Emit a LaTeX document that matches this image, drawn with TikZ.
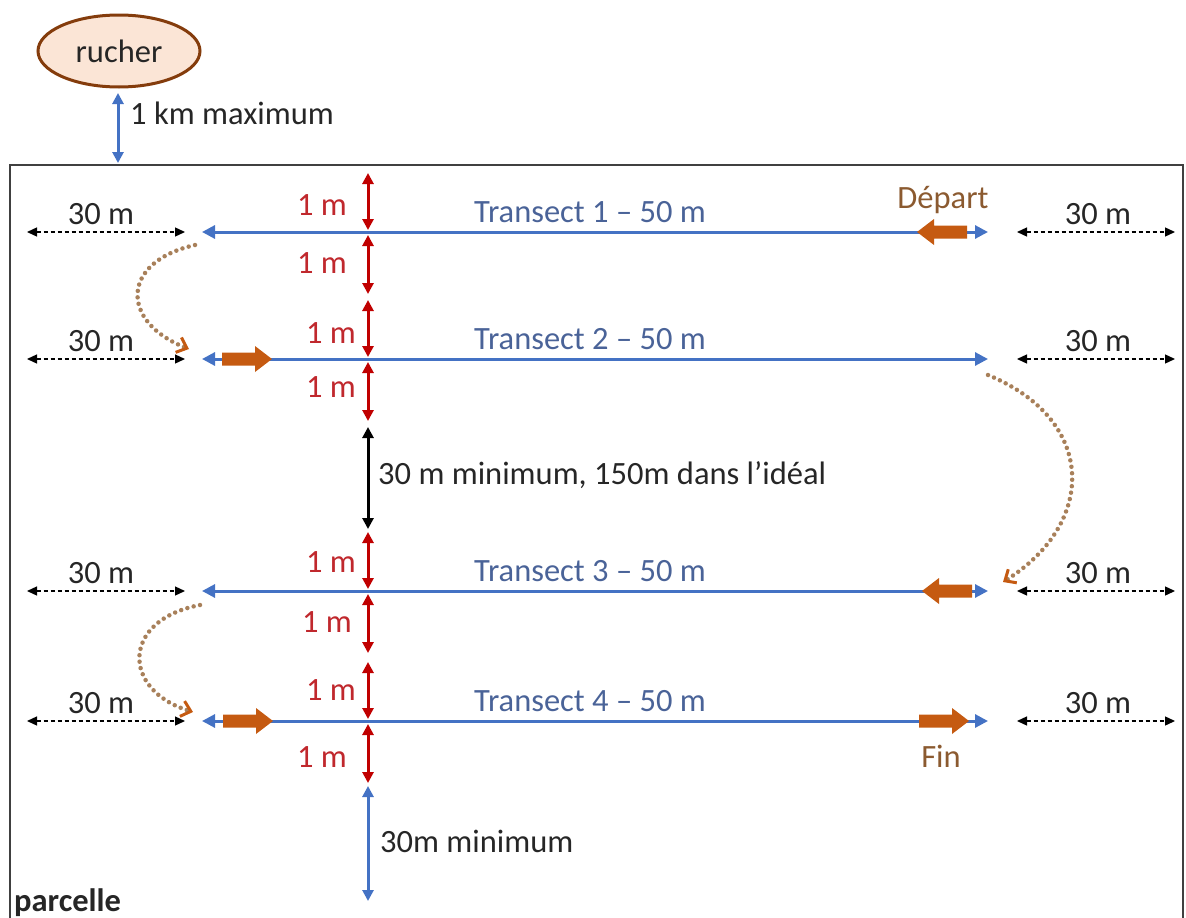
\documentclass[tikz,border=0pt]{standalone}
\usepackage{fontspec}
\setmainfont{Carlito}
\usetikzlibrary{arrows.meta,shapes.geometric}
\definecolor{tblue}{HTML}{4472C4}
\definecolor{tred}{HTML}{C00000}
\definecolor{tredtxt}{HTML}{C0282D}
\definecolor{torange}{HTML}{C55A11}
\definecolor{tbrown}{HTML}{843C0C}
\definecolor{tpeach}{HTML}{FBE5D6}
\definecolor{ttxtblue}{HTML}{4A6398}
\definecolor{tdot}{HTML}{A8805A}
\definecolor{tbrowntxt}{HTML}{8B5A30}
\definecolor{tdark}{HTML}{262626}
\begin{document}
\begin{tikzpicture}[x=1pt,y=-1pt,
  every node/.style={font=\fontsize{32.5}{38}\selectfont, text=tdark, inner sep=0pt},
  transect/.style={tblue, line width=3pt, {Triangle[length=13pt,width=13pt]}-{Triangle[length=13pt,width=13pt]}},
  redarr/.style={tred, line width=3pt, {Triangle[length=11pt,width=11pt]}-{Triangle[length=11pt,width=11pt]}},
  blackarr/.style={black, line width=3pt, {Triangle[length=11pt,width=11pt]}-{Triangle[length=11pt,width=11pt]}},
  bluearr/.style={tblue, line width=3pt, {Triangle[length=11pt,width=11pt]}-{Triangle[length=11pt,width=11pt]}},
  dimarr/.style={black, line width=1.3pt, dash pattern=on 4pt off 3pt, {Triangle[length=10pt,width=9pt]}-{Triangle[length=10pt,width=9pt]}},
  dotarr/.style={tdot, line width=4.5pt, dash pattern=on 0pt off 6.5pt, line cap=round, -{Straight Barb[length=9pt,width=16pt,line width=3pt,color=torange]}},
  tlabel/.style={text=ttxtblue, anchor=base},
  rlabel/.style={text=tredtxt, anchor=east},
  dlabel/.style={anchor=base},
  barrow/.pic={\fill[torange] (0,-6.5) -- (33,-6.5) -- (33,-13) -- (50,0) -- (33,13) -- (33,6.5) -- (0,6.5) -- cycle;}
]
\useasboundingbox (0,0) rectangle (1186,918);
% parcel outline
\draw[line width=2pt, black!75] (10,930) -- (10,165) -- (1183,165) -- (1183,930);
\node[anchor=base west, font=\fontsize{32.5}{38}\selectfont\bfseries] (parcelle) at (14,911) {parcelle};
% rucher
\node[ellipse, draw=tbrown, line width=3pt, fill=tpeach, minimum width=162pt, minimum height=72pt] (rucher) at (119,51) {rucher};
\coordinate (kmA) at (118,93);
\coordinate (kmB) at (118,163);
\draw[bluearr] (kmA) -- (kmB);
\node[anchor=base west] (kmlabel) at (130,124) {1 km maximum};
% transects
\foreach \i/\y in {1/232,2/359,3/591,4/721}{
  \coordinate (TL\i) at (202,\y);
  \coordinate (TR\i) at (988,\y);
  \draw[transect] (TL\i) -- (TR\i);
  \node[tlabel] (tlab\i) at (590,\y-10) {Transect \i{} – 50 m};
  \coordinate (DLa\i) at (27,\y);
  \coordinate (DLb\i) at (185,\y);
  \draw[dimarr] (DLa\i) -- (DLb\i);
  \node[dlabel] (dl\i) at (101,\y-8) {30 m};
  \coordinate (DRa\i) at (1017,\y);
  \coordinate (DRb\i) at (1175,\y);
  \draw[dimarr] (DRa\i) -- (DRb\i);
  \node[dlabel] (dr\i) at (1098,\y-8) {30 m};
  \coordinate (RA\i) at (368,\y-59);
  \coordinate (RB\i) at (368,\y-2);
  \coordinate (RC\i) at (368,\y+3);
  \coordinate (RD\i) at (368,\y+62);
  \draw[redarr] (RA\i) -- (RB\i);
  \draw[redarr] (RC\i) -- (RD\i);
}
\node[rlabel] (r1a) at (347,205) {1 m};
\node[rlabel] (r1b) at (347,263) {1 m};
\node[rlabel] (r2a) at (356,333) {1 m};
\node[rlabel] (r2b) at (356,387) {1 m};
\node[rlabel] (r3a) at (356,562) {1 m};
\node[rlabel] (r3b) at (352,622) {1 m};
\node[rlabel] (r4a) at (356,690) {1 m};
\node[rlabel] (r4b) at (347,757) {1 m};
% black gap arrow
\coordinate (gA) at (368,427);
\coordinate (gB) at (368,529);
\draw[blackarr] (gA) -- (gB);
\node[anchor=base west] (gaplabel) at (378,484) {30 m minimum, 150m dans l’idéal};
% bottom blue arrow
\coordinate (bA) at (368,786);
\coordinate (bB) at (368,901);
\draw[bluearr] (bA) -- (bB);
\node[anchor=base west] (botlabel) at (380,852) {30m minimum};
% block arrows
\pic at (967,232) [xscale=-1] {barrow};
\pic at (222,359) {barrow};
\pic at (972,591) [xscale=-1] {barrow};
\pic at (223,721) {barrow};
\pic at (919,721) {barrow};
\node[anchor=base, text=tbrowntxt] (depart) at (943,208) {Départ};
\node[anchor=base, text=tbrowntxt] (fin) at (941,767) {Fin};
% dotted path arrows
\coordinate (c1s) at (195,245);
\coordinate (c1e) at (189,349);
\draw[dotarr] (c1s) .. controls (120,262) and (120,322) .. (c1e);
\coordinate (c2s) at (988,375);
\coordinate (c2e) at (1003,582);
\draw[dotarr] (c2s) .. controls (1097,420) and (1097,523) .. (c2e);
\coordinate (c3s) at (200,605);
\coordinate (c3e) at (193,712);
\draw[dotarr] (c3s) .. controls (121,620) and (121,690) .. (c3e);
\end{tikzpicture}
\end{document}
